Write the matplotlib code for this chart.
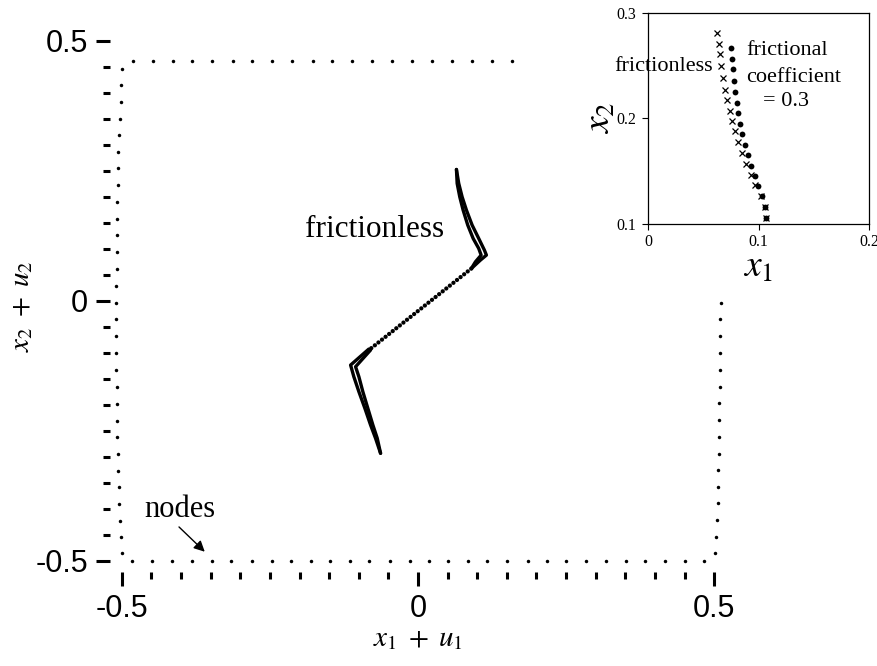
import numpy as np
import matplotlib.pyplot as plt
from matplotlib.ticker import MultipleLocator

plt.rcParams['mathtext.fontset'] = 'stix'

# boundary nodes of the deformed body
left_x = [-0.500, -0.502, -0.502, -0.503, -0.505, -0.506, -0.506, -0.507, -0.508, -0.508,
          -0.508, -0.508, -0.509, -0.510, -0.510, -0.510, -0.510, -0.510, -0.510, -0.509,
          -0.508, -0.508, -0.508, -0.507, -0.506, -0.505, -0.504, -0.503, -0.502, -0.500]
left_y = [0.446, 0.415, 0.383, 0.350, 0.319, 0.287, 0.255, 0.223, 0.190, 0.158,
          0.126, 0.094, 0.061, 0.028, -0.004, -0.035, -0.068, -0.101, -0.133, -0.166,
          -0.198, -0.231, -0.262, -0.295, -0.327, -0.358, -0.391, -0.423, -0.454, -0.486]
top_x = [-0.482, -0.448, -0.414, -0.381, -0.347, -0.313, -0.280, -0.246, -0.212, -0.178,
         -0.145, -0.111, -0.077, -0.044, -0.010, 0.024, 0.058, 0.091, 0.125, 0.159]
top_y = [0.461] * 20
bottom_x = [-0.483, -0.449, -0.416, -0.382, -0.348, -0.315, -0.281, -0.247, -0.215, -0.181,
            -0.148, -0.114, -0.082, -0.048, -0.014, 0.018, 0.051, 0.085, 0.117, 0.151,
            0.185, 0.218, 0.250, 0.284, 0.318, 0.352, 0.384, 0.417, 0.451, 0.483]
bottom_y = [-0.501] * 30
right_x = [0.512, 0.510, 0.510, 0.510, 0.510, 0.510, 0.509, 0.508, 0.508, 0.508,
           0.507, 0.507, 0.506, 0.505, 0.503, 0.502]
right_y = [-0.004, -0.036, -0.068, -0.100, -0.133, -0.165, -0.197, -0.229, -0.262, -0.294,
           -0.326, -0.358, -0.390, -0.422, -0.454, -0.486]

# crack faces: upper and lower bends for both contact conditions
fless_up_x = [0.0649, 0.0661, 0.0705, 0.0762, 0.0840, 0.0931, 0.1025, 0.1066, 0.0970, 0.090]
fless_up_y = [0.2527, 0.2258, 0.2000, 0.1744, 0.1456, 0.1200, 0.1008, 0.0879, 0.0750, 0.062]
fric_up_x = [0.0649, 0.0688, 0.0745, 0.0818, 0.0914, 0.1025, 0.1121, 0.1155, 0.1054, 0.090]
fric_up_y = [0.2527, 0.2258, 0.2000, 0.1744, 0.1456, 0.1200, 0.0975, 0.0879, 0.0783, 0.062]
fless_lo_x = [-0.082, -0.0801, -0.1054, -0.0998, -0.0931, -0.0847, -0.0762, -0.0688, -0.0632]
fless_lo_y = [-0.094, -0.0948, -0.1269, -0.1462, -0.1750, -0.2069, -0.2390, -0.2646, -0.2935]
fric_lo_x = [-0.082, -0.0830, -0.1138, -0.1083, -0.0998, -0.0897, -0.0801, -0.0717, -0.0632]
fric_lo_y = [-0.094, -0.0929, -0.1237, -0.1462, -0.1750, -0.2069, -0.2390, -0.2646, -0.2935]
mid_x = [0.090, -0.082]
mid_y = [0.062, -0.094]

# inset: nodes near the upper tip
ins_fless_x = [0.0627, 0.0640, 0.0652, 0.0664, 0.0682, 0.0697, 0.0715, 0.0739, 0.0760,
               0.0784, 0.0811, 0.0851, 0.0887, 0.0932, 0.0968, 0.1026, 0.1059, 0.1065]
ins_fless_y = [0.2808, 0.2707, 0.2606, 0.2495, 0.2382, 0.2271, 0.2174, 0.2073, 0.1975,
               0.1880, 0.1773, 0.1669, 0.1568, 0.1467, 0.1369, 0.1268, 0.1164, 0.1060]
ins_fric_x = [0.0754, 0.0757, 0.0766, 0.0775, 0.0787, 0.0802, 0.0817, 0.0833, 0.0854,
              0.0881, 0.0905, 0.0935, 0.0968, 0.0995, 0.1032, 0.1059, 0.1065]
ins_fric_y = [0.2662, 0.2565, 0.2464, 0.2356, 0.2249, 0.2145, 0.2047, 0.1950, 0.1852,
              0.1751, 0.1653, 0.1552, 0.1454, 0.1356, 0.1265, 0.1164, 0.1060]

fig = plt.figure(figsize=(8.77, 6.66), dpi=100)
ax = fig.add_axes([110 / 877, 94 / 666, 616 / 877, 531 / 666])

for xs, ys in [(left_x, left_y), (top_x, top_y), (bottom_x, bottom_y), (right_x, right_y)]:
    ax.plot(xs, ys, 'o', color='black', ms=2.5, mew=0)

for xs, ys in [(fless_up_x, fless_up_y), (fric_up_x, fric_up_y),
               (fless_lo_x, fless_lo_y), (fric_lo_x, fric_lo_y)]:
    ax.plot(xs, ys, '-', color='black', lw=2.4, solid_joinstyle='round', solid_capstyle='round')
ax.plot(mid_x, mid_y, color='black', lw=3.1, linestyle=(0, (0.01, 1.05)),
        dash_capstyle='round')

ax.set_xlim(-0.52, 0.52)
ax.set_ylim(-0.522, 0.5)
for s in ax.spines.values():
    s.set_visible(False)
ax.set_xticks([-0.5, 0, 0.5])
ax.set_yticks([-0.5, 0, 0.5])
ax.set_xticklabels(['-0.5', '0', '0.5'])
ax.set_yticklabels(['-0.5', '0', '0.5'])
ax.xaxis.set_minor_locator(MultipleLocator(0.05))
ax.yaxis.set_minor_locator(MultipleLocator(0.05))
ax.tick_params(which='major', direction='out', length=10, width=2.2, pad=6,
               labelsize=22, labelfontfamily='Liberation Sans')
ax.tick_params(which='minor', direction='out', length=5, width=2.2)

ax.set_xlabel(r'$x_1\;+\;u_1$', fontsize=21, labelpad=0)
ax.set_ylabel(r'$x_2\;+\;u_2$', fontsize=21, labelpad=0)

ax.text(-0.190, 0.1225, 'frictionless', family='Liberation Serif', fontsize=22.5)
ax.annotate('nodes', xy=(-0.360, -0.483), xytext=(-0.4624, -0.4165),
            family='Liberation Serif', fontsize=22,
            arrowprops=dict(arrowstyle='-|>', color='black', lw=1.0,
                            mutation_scale=16, shrinkA=0, shrinkB=0,
                            relpos=(0.45, 0.0)))

# inset
axi = fig.add_axes([648 / 877, 442 / 666, 221 / 877, 211.3 / 666])
axi.plot(ins_fless_x, ins_fless_y, 'x', color='black', ms=4.5, mew=0.9)
axi.plot(ins_fric_x, ins_fric_y, 'o', color='black', ms=4.2, mew=0)
axi.set_xlim(0, 0.2)
axi.set_ylim(0.1, 0.3)
axi.set_xticks([0, 0.1, 0.2])
axi.set_yticks([0.1, 0.2, 0.3])
axi.set_xticklabels(['0', '0.1', '0.2'])
axi.set_yticklabels(['0.1', '0.2', '0.3'])
axi.tick_params(direction='out', length=4, width=0.8, pad=4.5, labelsize=11.5,
                labelfontfamily='Liberation Serif')
axi.tick_params(axis='x', pad=3.5)
for s in axi.spines.values():
    s.set_linewidth(0.9)
axi.set_xlabel(r'$x_1$', fontsize=27, labelpad=-1)
axi.set_ylabel(r'$x_2$', fontsize=27, labelpad=-1)
axi.text(0.0588, 0.2449, 'frictionless', family='Liberation Serif', fontsize=16,
         ha='right', va='baseline')
axi.text(0.0889, 0.260, 'frictional', family='Liberation Serif', fontsize=16, va='baseline')
axi.text(0.0889, 0.2347, 'coefficient', family='Liberation Serif', fontsize=16, va='baseline')
axi.text(0.104, 0.2117, '= 0.3', family='Liberation Serif', fontsize=16, va='baseline')

fig.savefig('out.png', dpi=100)
